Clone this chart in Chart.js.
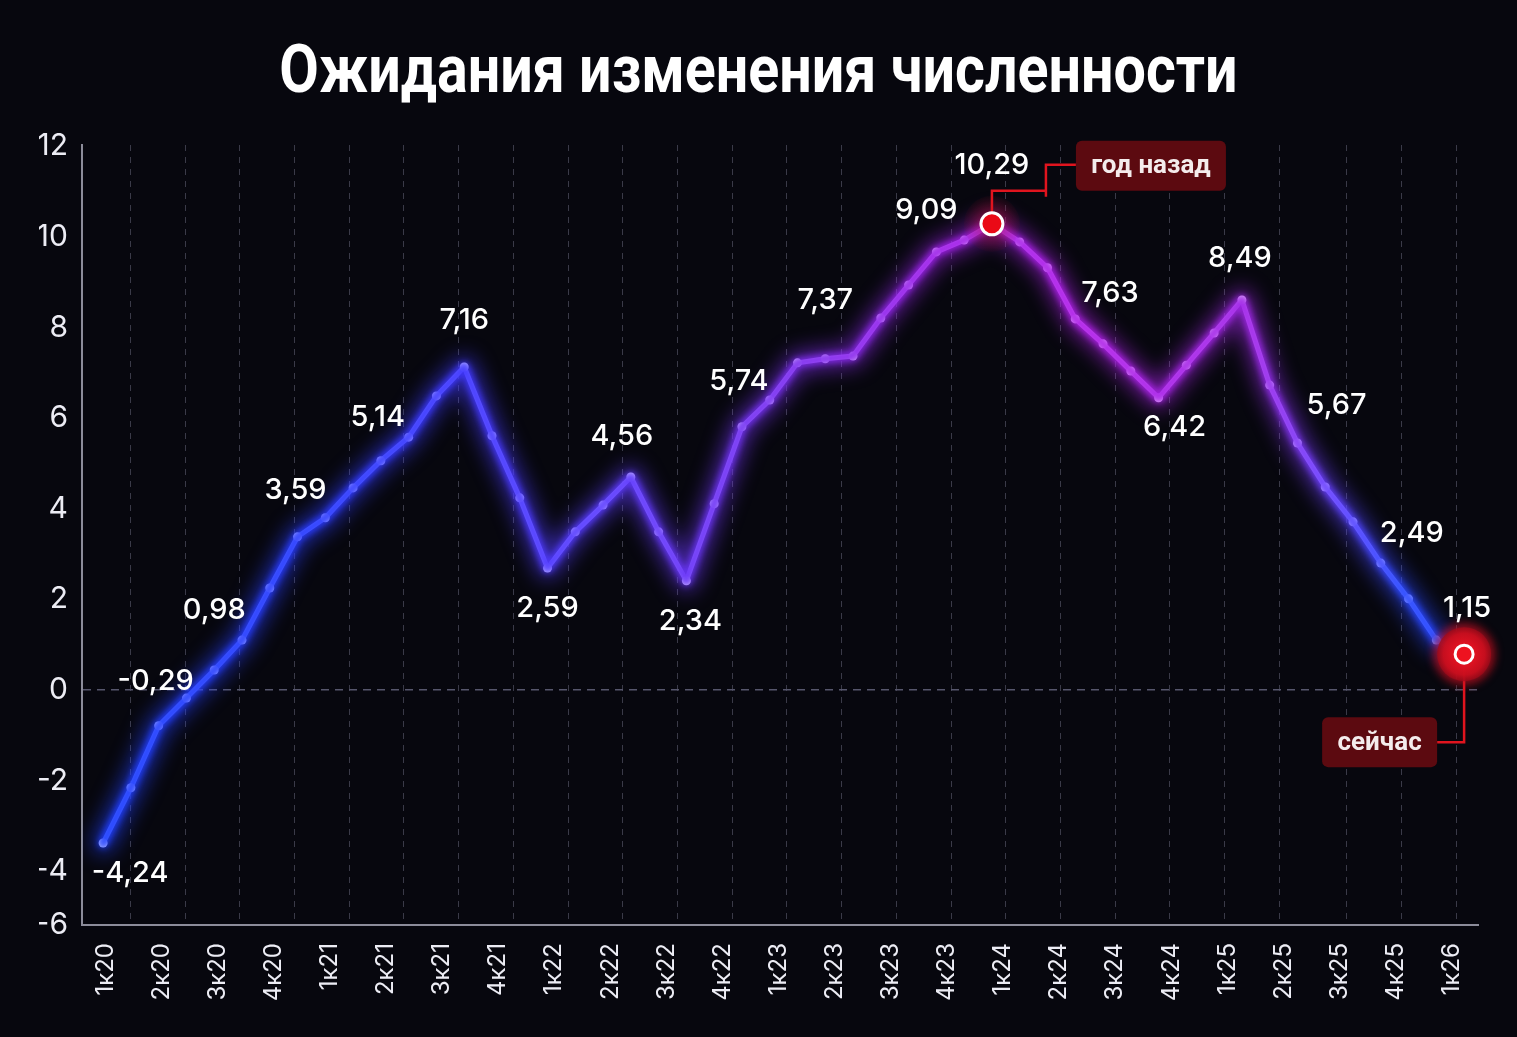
<!DOCTYPE html>
<html lang="ru">
<head>
<meta charset="utf-8">
<title>Ожидания изменения численности</title>
<script src="https://cdn.jsdelivr.net/npm/chart.js@4.4.1/dist/chart.umd.min.js"></script>
<style>
    html, body { margin: 0; padding: 0; background: #07070e; }
    #wrap { width: 1517px; height: 1037px; }
</style>
</head>
<body>
<div id="wrap"><canvas id="chart" width="1517" height="1037"></canvas></div>
<script>
// Chart title
const TITLE = 'Ожидания изменения численности';

// Quarter labels under the x axis
const quarterLabels = [
    '1к20', '2к20', '3к20', '4к20',
    '1к21', '2к21', '3к21', '4к21',
    '1к22', '2к22', '3к22', '4к22',
    '1к23', '2к23', '3к23', '4к23',
    '1к24', '2к24', '3к24', '4к24',
    '1к25', '2к25', '3к25', '4к25',
    '1к26'
];

// Plotted series, one reading every half quarter (1к20 .. 1к26)
const expectations = [
    -3.38, -2.16, -0.79, -0.18, 0.44, 1.10, 2.25, 3.38, 3.80, 4.46,
    5.06, 5.58, 6.49, 7.13, 5.61, 4.24, 2.69, 3.49, 4.08, 4.70,
    3.49, 2.41, 4.11, 5.81, 6.40, 7.22, 7.31, 7.37, 8.21, 8.94,
    9.67, 9.93, 10.29, 9.89, 9.32, 8.19, 7.64, 7.04, 6.45, 7.17,
    7.88, 8.61, 6.73, 5.45, 4.48, 3.71, 2.80, 2.01, 1.10, 0.79
];

// Values printed next to selected points (point index -> text)
const valueLabels = {
    0: '-4,24', 2: '-0,29', 4: '0,98', 7: '3,59', 10: '5,14', 13: '7,16',
    16: '2,59', 19: '4,56', 21: '2,34', 23: '5,74', 26: '7,37', 30: '9,09',
    32: '10,29', 36: '7,63', 38: '6,42', 41: '8,49', 43: '5,67', 46: '2,49',
    49: '1,15'
};

// Y axis ticks (the lowest label sits on the floor of the axis)
const Y_MIN = -5.19;
const Y_MAX = 12.03;
const yTickValues = [Y_MIN, -4, -2, 0, 2, 4, 6, 8, 10, 12];
const yTickLabels = ['-6', '-4', '-2', '0', '2', '4', '6', '8', '10', '12'];

// Highlighted points
const YEAR_AGO = 32;
const NOW = 49;

// ---- styling ----
const X_MIN = -0.38;
const X_MAX = 24.75;
const TEXT = '#ececf4';
const AXIS = '#8c8c9a';

// label placement relative to its point (dx, dy)
const labelOffsets = {
    0: [27, 30], 2: [-3, -44], 4: [0, -60], 7: [-2, -47], 10: [-3, -43],
    13: [0, -47], 16: [0, 40], 19: [-9, -41], 21: [4, 41], 23: [-3, -45],
    26: [0, -59], 30: [-10, -42], 32: [0, -59], 36: [7, -51], 38: [16, 30],
    41: [-2, -42], 43: [39, -38], 46: [31, -30], 49: [3, -46]
};

// gradient stops along the line: position, core colour, glow colour
const lineStops = [
    [0.00, '#90b2ff', '#2040ff'],
    [0.16, '#9cb2ff', '#2a3cff'],
    [0.27, '#b4b4ff', '#4038ff'],
    [0.37, '#c8c0ff', '#5a3cff'],
    [0.50, '#d8b8ff', '#7a30f0'],
    [0.62, '#e8b0ff', '#a020e8'],
    [0.72, '#ecb2ff', '#b020e8'],
    [0.84, '#e4b8ff', '#a028e8'],
    [0.89, '#d0c0ff', '#6a40ff'],
    [0.945, '#a0bcff', '#2c48ff'],
    [1.00, '#94b4ff', '#2040ff']
];

function rgba(hex, a) {
    const n = parseInt(hex.slice(1), 16);
    return `rgba(${n >> 16}, ${(n >> 8) & 255}, ${n & 255}, ${a})`;
}

function lineGradient(chart, which, alpha) {
    const area = chart.chartArea;
    if (!area) return 'transparent';
    const g = chart.ctx.createLinearGradient(area.left, 0, area.right, 0);
    lineStops.forEach(s => g.addColorStop(s[0], rgba(s[which], alpha)));
    return g;
}

// vertical dashed guides (slightly uneven in the original)
function guidePosition(j) {
    return j < 22 ? 0.49 + 0.985 * j : 0.61 + 0.99 * j;
}

const points = expectations.map((v, i) => ({ x: i * 0.5, y: v }));

/**
 * Heavy, slightly condensed title above the plot
 */
const titlePlugin = {
    id: 'bigTitle',
    beforeDraw(chart) {
        const ctx = chart.ctx;
        ctx.save();
        ctx.font = 'bold 66px Roboto';
        ctx.fillStyle = '#ffffff';
        ctx.textAlign = 'center';
        ctx.textBaseline = 'alphabetic';
        ctx.translate(chart.width / 2, 92);
        ctx.scale(0.87, 1);
        ctx.fillText(TITLE, 0, 0);
        ctx.restore();
    }
};

/**
 * Blur pass for the glow datasets
 */
const glowPlugin = {
    id: 'glow',
    beforeDatasetDraw(chart, args) {
        const blur = chart.data.datasets[args.index].glowBlur;
        chart.ctx.save();
        if (blur) chart.ctx.filter = `blur(${blur}px)`;
    },
    afterDatasetDraw(chart) {
        chart.ctx.restore();
    }
};

/**
 * Value labels, red markers and the two callouts
 */
const calloutPlugin = {
    id: 'callouts',
    afterDatasetsDraw(chart) {
        const ctx = chart.ctx;
        const meta = chart.getDatasetMeta(2);

        // "год назад" marker
        const a = meta.data[YEAR_AGO];
        ctx.save();
        const soft = ctx.createRadialGradient(a.x, a.y, 6, a.x, a.y, 28);
        soft.addColorStop(0, 'rgba(200, 20, 40, 0.45)');
        soft.addColorStop(1, 'rgba(160, 10, 30, 0.05)');
        ctx.fillStyle = soft;
        ctx.beginPath();
        ctx.arc(a.x, a.y, 28, 0, Math.PI * 2);
        ctx.fill();

        ctx.strokeStyle = '#e0141e';
        ctx.lineWidth = 2.5;
        ctx.beginPath();
        ctx.moveTo(a.x, a.y - 12);
        ctx.lineTo(a.x, a.y - 33);
        ctx.lineTo(a.x + 54, a.y - 33);
        ctx.moveTo(a.x + 54, a.y - 27);
        ctx.lineTo(a.x + 54, a.y - 59);
        ctx.lineTo(a.x + 84, a.y - 59);
        ctx.stroke();

        ctx.fillStyle = '#ea0a16';
        ctx.strokeStyle = '#ffffff';
        ctx.lineWidth = 3;
        ctx.beginPath();
        ctx.arc(a.x, a.y, 11, 0, Math.PI * 2);
        ctx.fill();
        ctx.stroke();

        drawTag(ctx, 'год назад', a.x + 84, a.y - 83, 150, 50);

        // "сейчас" marker
        const n = meta.data[NOW];
        ctx.strokeStyle = '#e0141e';
        ctx.lineWidth = 2.5;
        ctx.beginPath();
        ctx.moveTo(n.x, n.y + 10);
        ctx.lineTo(n.x, n.y + 88);
        ctx.lineTo(n.x - 27, n.y + 88);
        ctx.stroke();

        ctx.save();
        ctx.filter = 'blur(4px)';
        ctx.fillStyle = 'rgba(200, 14, 30, 0.7)';
        ctx.beginPath();
        ctx.arc(n.x, n.y, 31, 0, Math.PI * 2);
        ctx.fill();
        ctx.restore();

        const halo = ctx.createRadialGradient(n.x, n.y, 4, n.x, n.y, 28);
        halo.addColorStop(0, 'rgba(240, 20, 35, 1)');
        halo.addColorStop(0.7, 'rgba(200, 14, 30, 0.95)');
        halo.addColorStop(1, 'rgba(150, 10, 25, 0.75)');
        ctx.fillStyle = halo;
        ctx.beginPath();
        ctx.arc(n.x, n.y, 27, 0, Math.PI * 2);
        ctx.fill();

        ctx.fillStyle = '#ee1220';
        ctx.strokeStyle = '#ffffff';
        ctx.lineWidth = 3;
        ctx.beginPath();
        ctx.arc(n.x, n.y, 9, 0, Math.PI * 2);
        ctx.fill();
        ctx.stroke();

        drawTag(ctx, 'сейчас', n.x - 142, n.y + 63, 115, 50);

        // value labels
        ctx.font = '500 29px Inter';
        ctx.fillStyle = '#ffffff';
        ctx.textAlign = 'center';
        ctx.textBaseline = 'middle';
        Object.keys(valueLabels).forEach(k => {
            const p = meta.data[k];
            const off = labelOffsets[k] || [0, -45];
            ctx.fillText(valueLabels[k], p.x + off[0], p.y + off[1]);
        });
        ctx.restore();
    }
};

function drawTag(ctx, text, x, y, w, h) {
    ctx.save();
    ctx.fillStyle = '#5c0a10';
    ctx.beginPath();
    ctx.roundRect(x, y, w, h, 6);
    ctx.fill();
    ctx.font = 'bold 26px Roboto';
    ctx.fillStyle = '#f4ecec';
    ctx.textAlign = 'center';
    ctx.textBaseline = 'middle';
    ctx.fillText(text, x + w / 2, y + h / 2 + 1);
    ctx.restore();
}

const ctx = document.getElementById('chart').getContext('2d');

new Chart(ctx, {
    type: 'line',
    data: {
        datasets: [
            {
                data: points,
                borderColor: c => lineGradient(c.chart, 2, 0.6),
                borderWidth: 22,
                pointRadius: 0,
                glowBlur: 10
            },
            {
                data: points,
                borderColor: c => lineGradient(c.chart, 2, 0.9),
                borderWidth: 10,
                pointRadius: 0,
                glowBlur: 3
            },
            {
                data: points,
                borderColor: c => lineGradient(c.chart, 1, 1),
                borderWidth: 5,
                pointRadius: 4.5,
                pointBackgroundColor: '#ffffff',
                pointBorderWidth: 0
            }
        ]
    },
    options: {
        responsive: false,
        animation: false,
        events: [],
        layout: {
            padding: { left: 39, right: 39, top: 145, bottom: 0 }
        },
        elements: {
            line: { tension: 0, borderJoinStyle: 'round', borderCapStyle: 'round' }
        },
        plugins: {
            legend: { display: false },
            tooltip: { enabled: false },
            title: { display: false }
        },
        scales: {
            x: {
                type: 'linear',
                min: X_MIN,
                max: X_MAX,
                afterBuildTicks: axis => {
                    axis.ticks = quarterLabels.map((_, k) => ({ value: 0.04 + 1.01 * k }));
                },
                ticks: {
                    autoSkip: false,
                    minRotation: 90,
                    maxRotation: 90,
                    padding: 18,
                    color: TEXT,
                    font: { family: 'Inter', size: 24 },
                    callback: (v, i) => quarterLabels[i]
                },
                grid: { display: false, drawTicks: false },
                border: { display: true, color: AXIS, width: 2 },
                afterFit: s => { s.height = 112; }
            },
            xg: {
                type: 'linear',
                position: 'bottom',
                min: X_MIN,
                max: X_MAX,
                afterBuildTicks: axis => {
                    axis.ticks = quarterLabels.map((_, j) => ({ value: guidePosition(j) }));
                },
                ticks: { display: false },
                grid: { color: '#3a3a48', lineWidth: 1, drawTicks: false },
                border: { display: false, dash: [6, 6] },
                afterFit: s => { s.height = 0; }
            },
            y: {
                min: Y_MIN,
                max: Y_MAX,
                afterBuildTicks: axis => {
                    axis.ticks = yTickValues.map(v => ({ value: v }));
                },
                ticks: {
                    padding: 14,
                    color: TEXT,
                    font: { family: 'Inter', size: 30 },
                    callback: (v, i) => yTickLabels[i]
                },
                grid: {
                    drawTicks: false,
                    lineWidth: 1.5,
                    color: c => (c.tick && c.tick.value === 0 ? '#56566c' : 'transparent')
                },
                border: { display: true, color: AXIS, width: 2, dash: [8, 6] },
                afterFit: s => { s.width = 43; }
            }
        }
    },
    plugins: [titlePlugin, glowPlugin, calloutPlugin]
});
</script>
</body>
</html>
